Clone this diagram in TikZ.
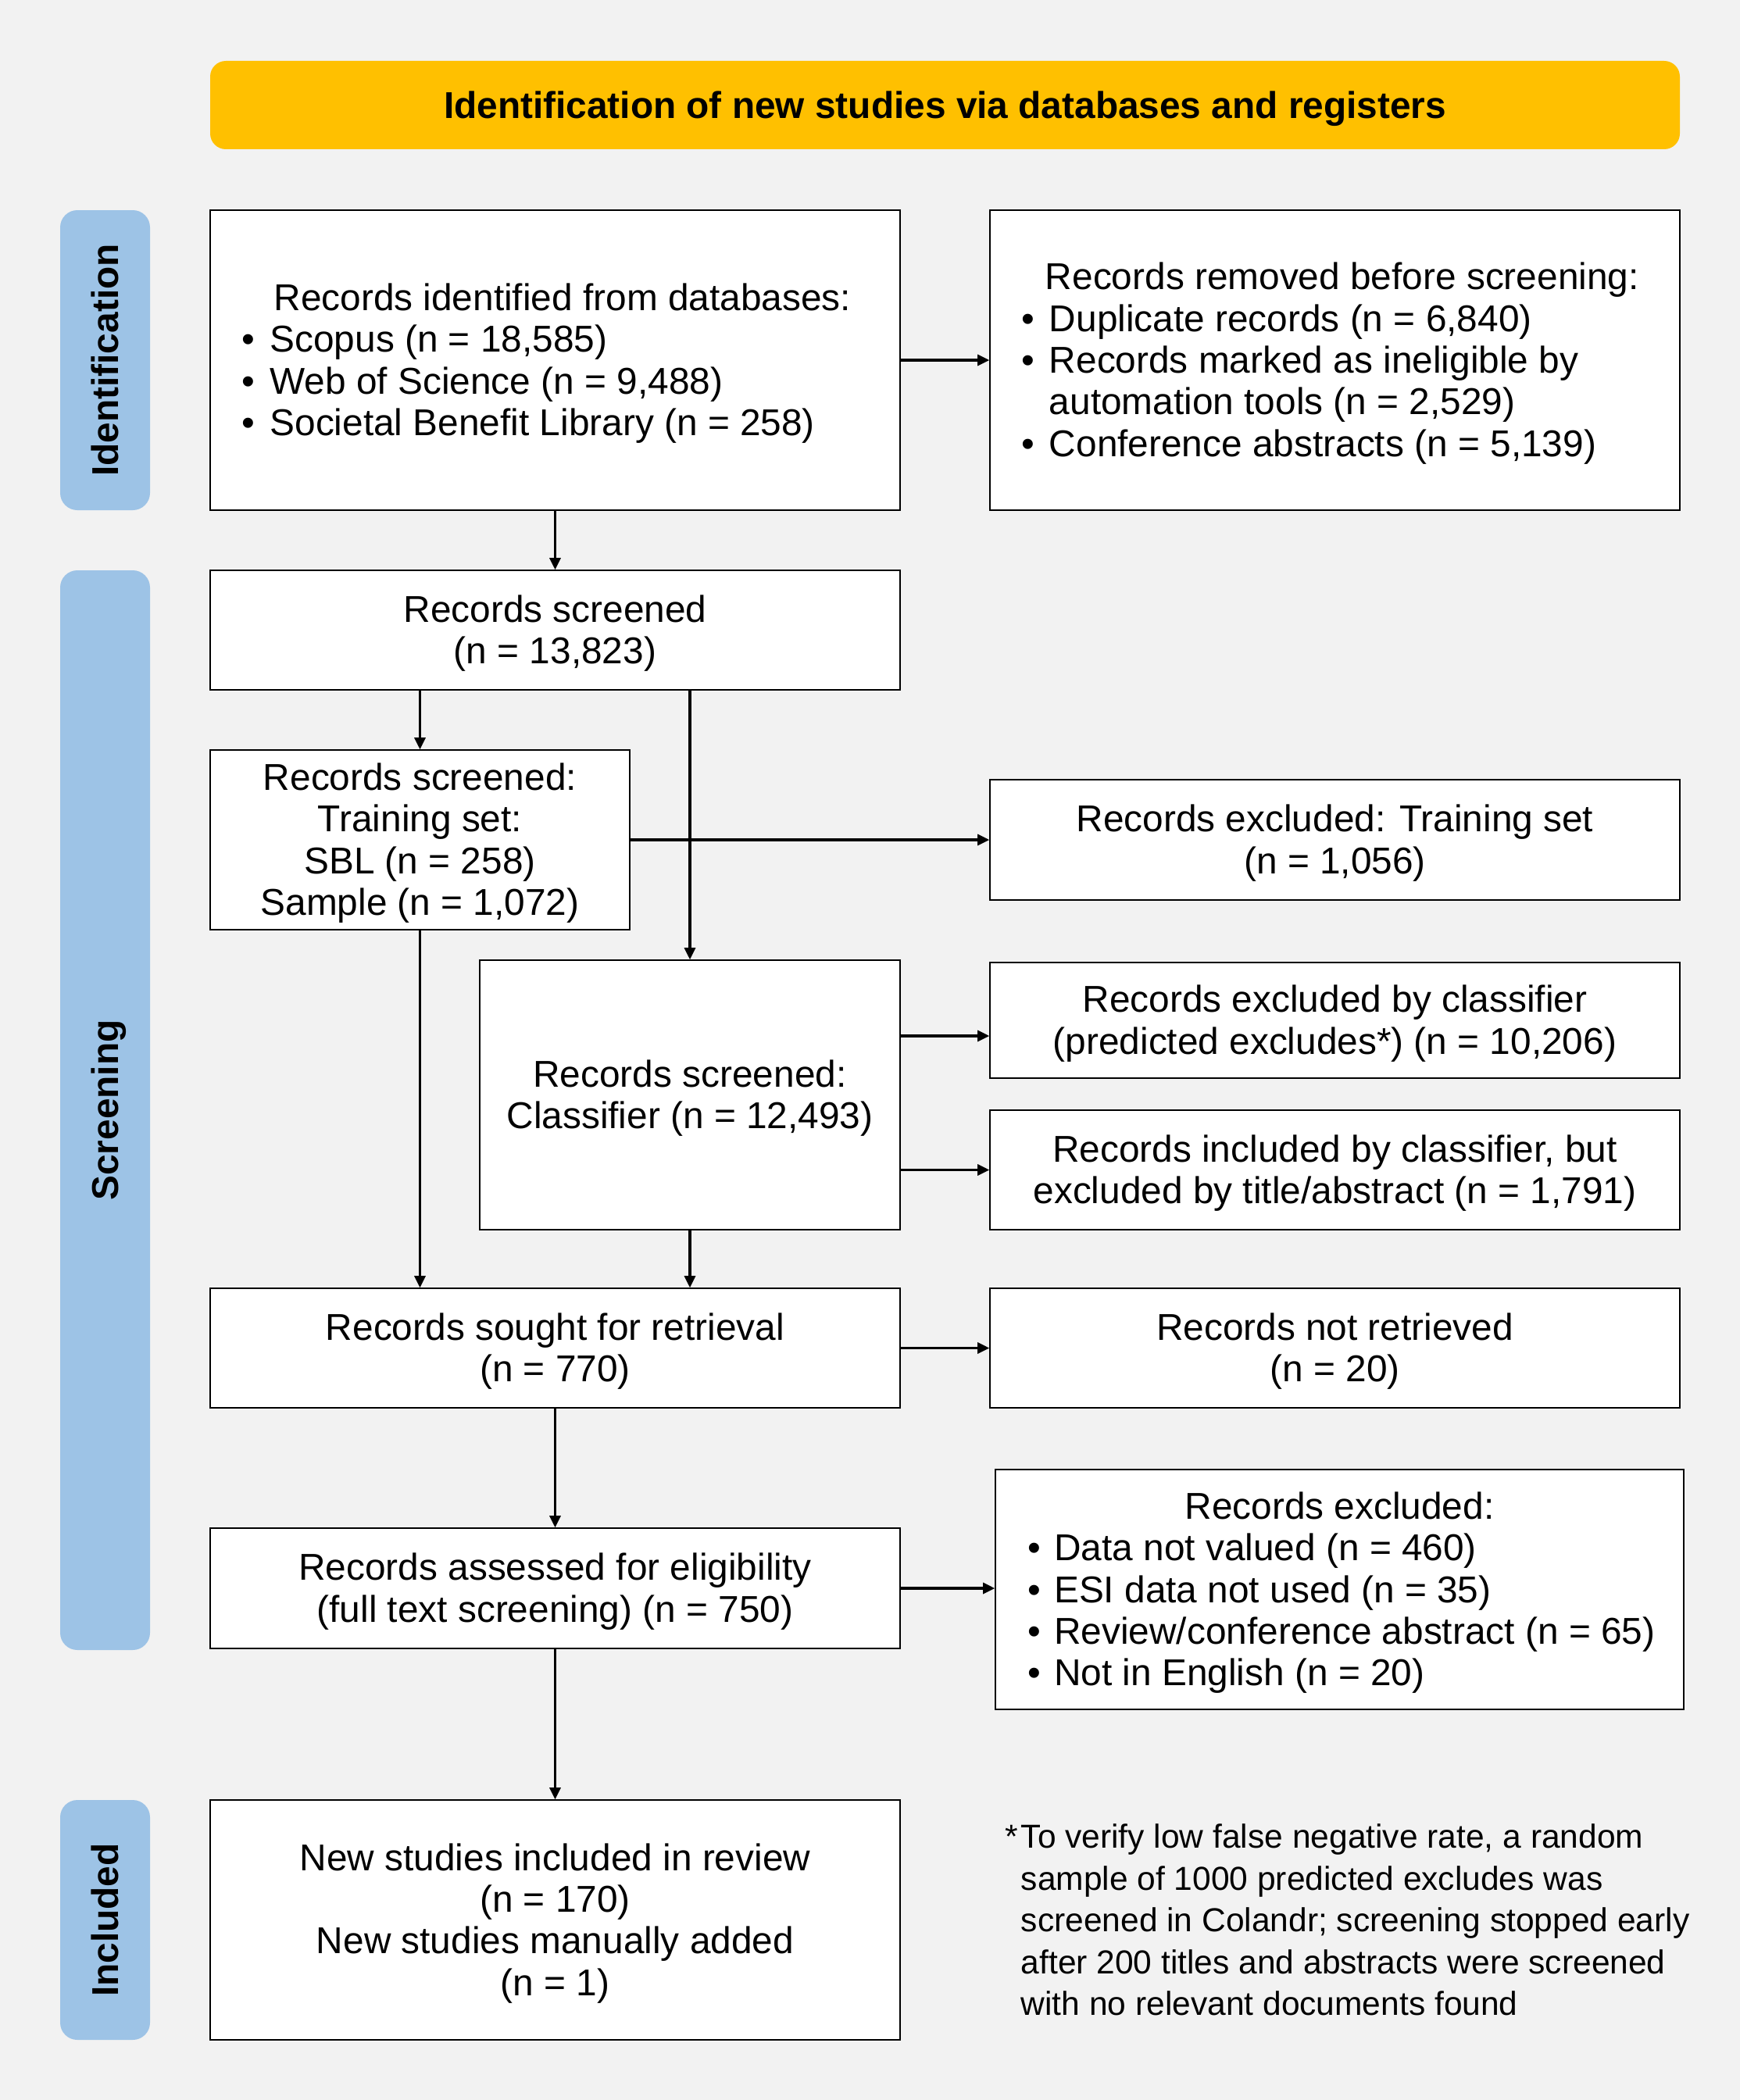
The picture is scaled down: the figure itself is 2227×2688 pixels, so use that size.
\documentclass[tikz,border=0pt]{standalone}
\usepackage{fontspec}
\setmainfont{Liberation Sans}
\usetikzlibrary{arrows.meta,positioning}

\definecolor{bggray}{HTML}{F2F2F2}
\definecolor{gold}{HTML}{FFC000}
\definecolor{phaseblue}{HTML}{9DC3E6}

\newcommand{\boxfont}{\fontsize{13.6}{15.2}\selectfont\setbox\strutbox\hbox{\vrule height 12.31pt depth 2.88pt width 0pt}}
\newcommand{\notefont}{\fontsize{12.1}{15.2}\selectfont\setbox\strutbox\hbox{\vrule height 11.9pt depth 3.3pt width 0pt}}
\newcommand{\stack}[1]{\begin{tabular}{@{}c@{}}#1\end{tabular}}

\tikzset{
		box/.style={draw,line width=0.45pt,fill=white,inner sep=0pt,align=center,font=\boxfont},
		phase/.style={fill=phaseblue,rounded corners=2.2mm,rotate=90,inner sep=0pt,
			minimum height=11.5mm,font=\boxfont\bfseries},
		banner/.style={fill=gold,rounded corners=2mm,inner sep=0pt,
			minimum width=188.1mm,minimum height=11.3mm,font=\boxfont\bfseries},
		note/.style={inner sep=0pt,align=left,font=\notefont},
		arr/.style={line width=0.9pt,-{Triangle[length=1.5mm,width=1.4mm]}}
	}

\begin{document}
\begin{tikzpicture}[x=0.1mm,y=-0.1mm]
				\fill[bggray] (0,0) rectangle (2227,2688);

				\node[banner] (title) at (1209.5,134.5) {\stack{Identification of new studies via databases and registers}};

				\node[phase,minimum width=38.4mm] (idphase) at (134.5,461) {\stack{Identification}};
				\node[phase,minimum width=138.2mm] (scphase) at (134.5,1421) {\stack{Screening}};
				\node[phase,minimum width=30.7mm] (inphase) at (134.5,2457.5) {\stack{Included}};

				\node[box,minimum width=88.3mm,minimum height=38.4mm] (ident) at (710.5,461) {%
					\begin{tabular}{@{}l@{\hspace{5.4pt}}l@{\hspace{2.2mm}}}
						& \hspace{0.5mm}Records identified from databases:\\
						\textbullet & Scopus (n = 18,585)\\
						\textbullet & Web of Science (n = 9,488)\\
						\textbullet & Societal Benefit Library (n = 258)
					\end{tabular}};
				\node[box,minimum width=88.3mm,minimum height=38.4mm] (removed) at (1708.5,461) {%
					\begin{tabular}{@{}l@{\hspace{5.4pt}}l@{\hspace{1.2mm}}}
						& \hspace{-0.5mm}Records removed before screening:\\
						\textbullet & Duplicate records (n = 6,840)\\
						\textbullet & Records marked as ineligible by\\
						& automation tools (n = 2,529)\\
						\textbullet & Conference abstracts (n = 5,139)
					\end{tabular}};

				\node[box,minimum width=88.3mm,minimum height=15.3mm] (screened) at (710.5,806.5) {\stack{Records screened\\(n = 13,823)}};
				\node[box,minimum width=53.7mm,minimum height=23mm] (training) at (537.5,1075) {\stack{Records screened:\\Training set:\\SBL (n = 258)\\Sample (n = 1,072)}};
				\node[box,minimum width=88.3mm,minimum height=15.4mm] (excltrain) at (1708.5,1075) {\stack{Records excluded: Training set\\(n = 1,056)}};

				\node[box,minimum width=53.8mm,minimum height=34.5mm] (classifier) at (883,1401.5) {\stack{Records screened:\\Classifier (n = 12,493)}};
				\node[box,minimum width=88.3mm,minimum height=14.8mm] (exclcls) at (1708.5,1306) {\stack{Records excluded by classifier\\(predicted excludes*) (n = 10,206)}};
				\node[box,minimum width=88.3mm,minimum height=15.3mm] (inclcls) at (1708.5,1497.5) {\stack{Records included by classifier, but\\excluded by title/abstract (n = 1,791)}};

				\node[box,minimum width=88.3mm,minimum height=15.3mm] (sought) at (710.5,1725.5) {\stack{Records sought for retrieval\\(n = 770)}};
				\node[box,minimum width=88.3mm,minimum height=15.3mm] (notret) at (1708.5,1725.5) {\stack{Records not retrieved\\(n = 20)}};

				\node[box,minimum width=88.3mm,minimum height=15.4mm] (assessed) at (710.5,2033) {\stack{Records assessed for eligibility\\(full text screening) (n = 750)}};
				\node[box,minimum width=88.1mm,minimum height=30.7mm] (excluded) at (1714.5,2034.5) {%
					\begin{tabular}{@{\hspace{0.5mm}}l@{\hspace{4.8pt}}l@{}}
						\multicolumn{2}{c}{Records excluded:}\\
						\textbullet & Data not valued (n = 460)\\
						\textbullet & ESI data not used (n = 35)\\
						\textbullet & Review/conference abstract (n = 65)\\
						\textbullet & Not in English (n = 20)
					\end{tabular}};

				\node[box,minimum width=88.3mm,minimum height=30.7mm] (included) at (710.5,2457.5) {\stack{New studies included in review\\(n = 170)\\New studies manually added\\(n = 1)}};

				\node[note,anchor=west] (fnote) at (1286,2457.5) {%
					\begin{tabular}{@{}l@{\hspace{1pt}}l@{}}
						* & To verify low false negative rate, a random\\
						& sample of 1000 predicted excludes was\\
						& screened in Colandr; screening stopped early\\
						& after 200 titles and abstracts were screened\\
						& with no relevant documents found
					\end{tabular}};

				\draw[arr] (ident) -- (removed);
				\draw[arr] (ident) -- (screened);
				\draw[arr] (screened.south -| training) -- (training);
				\draw[arr] (screened.south -| classifier) -- (classifier);
				\draw[arr] (training) -- (excltrain);
				\draw[arr] ([yshift=-2mm]exclcls.west -| classifier.east) -- ([yshift=-2mm]exclcls.west);
				\draw[arr] (classifier.east |- inclcls) -- (inclcls);
				\draw[arr] (classifier) -- (sought.north -| classifier);
				\draw[arr] (training) -- (sought.north -| training);
				\draw[arr] (sought) -- (notret);
				\draw[arr] (sought) -- (assessed);
				\draw[arr] (assessed.east) -- (assessed.east -| excluded.west);
				\draw[arr] (assessed) -- (included);
			\end{tikzpicture}
\end{document}
